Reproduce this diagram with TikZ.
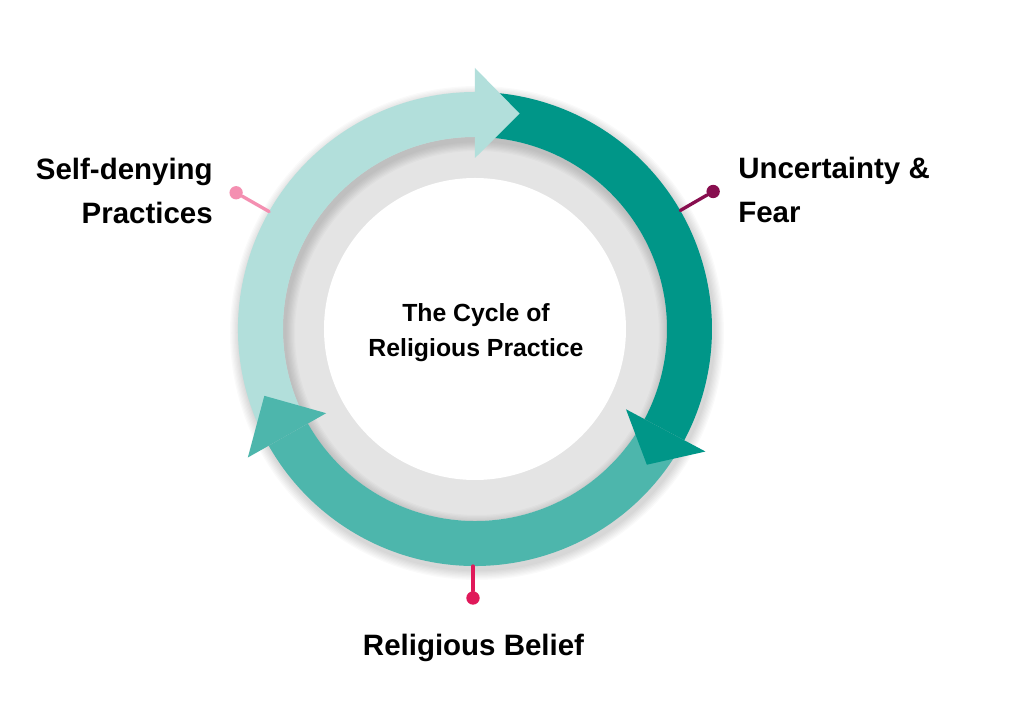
\documentclass[tikz,border=0pt]{standalone}
\usepackage{fontspec}
\setmainfont{Liberation Sans}
\usepackage{xcolor}
\usepackage{tikz}
\definecolor{paper}{HTML}{FFFFFF}
\definecolor{ringbg}{HTML}{E4E4E4}
\definecolor{tealpale}{HTML}{B2DFDB}
\definecolor{tealdark}{HTML}{009688}
\definecolor{tealmid}{HTML}{4DB6AC}
\definecolor{pinpink}{HTML}{F48FB1}
\definecolor{pinwine}{HTML}{880E4F}
\definecolor{pinrose}{HTML}{E0195A}
\definecolor{ink}{HTML}{000000}
\tikzset{
  halo/.style={draw=black, opacity=0.02},
  stem/.style={line width=2.5pt, line cap=round},
  pinhead/.style={circle, inner sep=0pt, minimum size=10pt},
  sidetext/.style={text=ink, font=\fontsize{22.1}{33.2}\selectfont\bfseries, inner sep=0pt},
  midtext/.style={text=ink, font=\fontsize{18.6}{26.3}\selectfont\bfseries, inner sep=0pt, align=center},
}

\begin{document}
\begin{tikzpicture}[x=0.75pt, y=0.75pt]
  \useasboundingbox (-475,-387) rectangle (547,329);
  \fill[paper] (-475,-387) rectangle (547,329);

  % grey ring and its soft shadow
  \fill[ringbg] (0,0) circle (192);
  \fill[paper] (0,0) circle (151);
  \foreach \s in {1,...,8} {
    \pgfmathsetmacro\lw{(45+2.5*\s)*0.75}
    \draw[halo, line width=\lw pt] (2,-4) circle (214.5);
  }

  % arrow bodies
  \fill[tealpale] (206:237) arc[start angle=206, end angle=90, radius=237]
    -- (90:192) arc[start angle=90, end angle=206, radius=192] -- cycle;
  \fill[tealdark] (86:237) arc[start angle=86, end angle=-28, radius=237]
    -- (-28:192) arc[start angle=-28, end angle=86, radius=192] -- cycle;
  \fill[tealmid] (-32:237) arc[start angle=-32, end angle=-150.5, radius=237]
    -- (-150.5:192) arc[start angle=-150.5, end angle=-32, radius=192] -- cycle;

  % arrow heads
  \fill[tealpale] (90:171) -- (90:261) -- (78.3:220) -- cycle;
  \fill[tealdark] (-28:171) -- (-28:261) -- (-38.3:219) -- cycle;
  \fill[tealmid] (-150.5:171) -- (-150.5:261) -- (-162.4:221) -- cycle;

  % pins
  \coordinate (rimL) at (150.3:237);
  \coordinate (rimR) at (30:237);
  \coordinate (rimB) at (-2,-237);
  \node[pinhead, fill=pinpink] (pinL) at (150.3:275) {};
  \node[pinhead, fill=pinwine] (pinR) at (30:275) {};
  \node[pinhead, fill=pinrose] (pinB) at (-2,-269) {};
  \draw[stem, draw=pinpink] (rimL) -- (pinL);
  \draw[stem, draw=pinwine] (rimR) -- (pinR);
  \draw[stem, draw=pinrose] (rimB) -- (pinB);

  % texts
  \node[sidetext, anchor=north east, align=right] (selfdeny) at (-262,171.5) {Self-denying\\Practices};
  \node[sidetext, anchor=north west, align=left] (fear) at (263,172) {Uncertainty \&\\Fear};
  \node[sidetext, anchor=base] (belief) at (-1.5,-327) {Religious Belief};
  \node[midtext, anchor=north] (cycle) at (1,26) {The Cycle of\\Religious Practice};
\end{tikzpicture}
\end{document}
